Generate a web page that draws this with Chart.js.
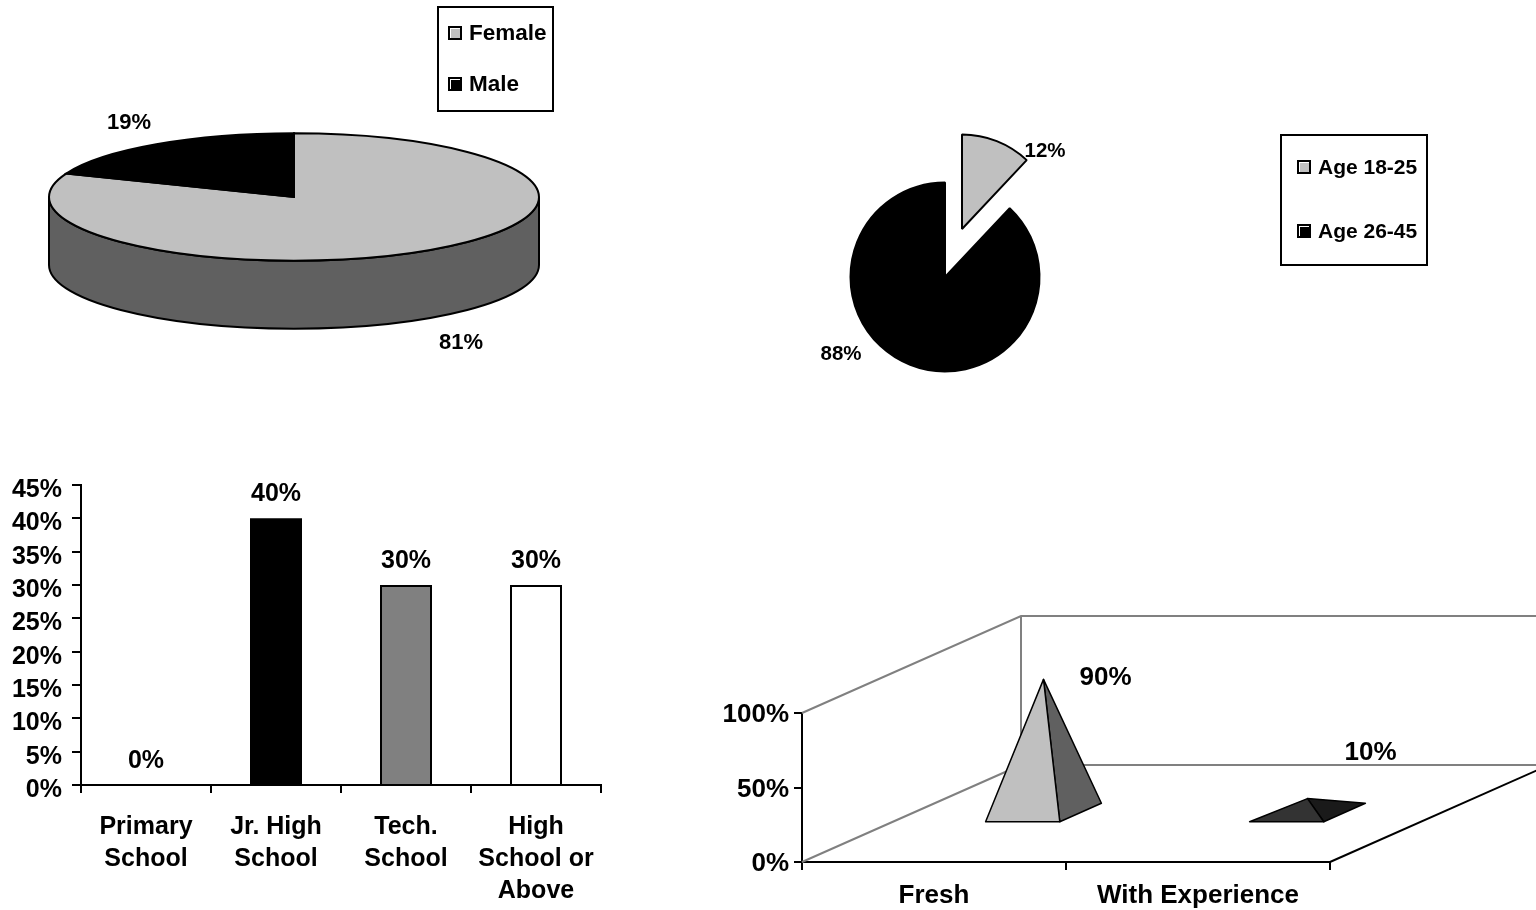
<!DOCTYPE html>
<html lang="en">
<head>
    <meta charset="UTF-8">
    <title>Respondent Profile</title>
    <script src="https://cdn.jsdelivr.net/npm/chart.js"></script>
    <style>
        html, body {
            margin: 0;
            padding: 0;
            background: #fff;
            overflow: hidden;
        }
        body {
            position: relative;
            width: 1536px;
            height: 910px;
            font-family: "Liberation Sans", Arial, sans-serif;
        }
        canvas, .legend {
            position: absolute;
        }
        .legend {
            box-sizing: border-box;
            border: 2px solid #000;
            background: #fff;
            font-weight: bold;
            will-change: transform;
        }
        .legend div {
            position: absolute;
            white-space: nowrap;
            line-height: 24px;
        }
        .legend span {
            position: absolute;
            box-sizing: border-box;
            width: 14px;
            height: 14px;
            left: -21px;
            top: 5px;
            border: 2px solid #000;
            box-shadow: inset 1px 1px 0 #fff;
        }
    </style>
</head>
<body>
    <canvas id="genderChart" width="588" height="394" style="left:0;top:0"></canvas>
    <canvas id="ageChart" width="400" height="400" style="left:745px;top:77px"></canvas>
    <canvas id="educationChart" width="620" height="440" style="left:0;top:470px"></canvas>
    <canvas id="experienceChart" width="836" height="320" style="left:700px;top:590px"></canvas>

    <div class="legend" id="genderLegend" style="left:437px;top:6px;width:117px;height:106px;font-size:22.5px"></div>
    <div class="legend" id="ageLegend" style="left:1280px;top:134px;width:148px;height:132px;font-size:21px"></div>

    <script>
        const genderLabels = ["Female", "Male"];
        const genderValues = [81, 19];

        const ageLabels = ["Age 18-25", "Age 26-45"];
        const ageValues = [12, 88];

        const educationLabels = [["Primary", "School"], ["Jr. High", "School"], ["Tech.", "School"], ["High", "School or", "Above"]];
        const educationValues = [0, 40, 30, 30];

        const experienceLabels = ["Fresh", "With Experience"];
        const experienceValues = [90, 10];

        const FONT = '"Liberation Sans", Arial, sans-serif';
        const GRAY = "#c0c0c0";

        Chart.defaults.animation = false;
        Chart.defaults.responsive = false;
        Chart.defaults.color = "#000";
        Chart.defaults.font.family = FONT;
        Chart.defaults.font.weight = "bold";

        function drawText(ctx, text, x, y, size) {
            ctx.save();
            ctx.font = "bold " + size + "px " + FONT;
            ctx.fillStyle = "#000";
            ctx.textAlign = "center";
            ctx.textBaseline = "middle";
            ctx.fillText(text, x, y);
            ctx.restore();
        }

        // percent labels around a pie, placed relative to its centre
        const pieLabels = {
            id: "pieLabels",
            afterDraw(chart, args, opts) {
                const { left, right, top, bottom } = chart.chartArea;
                const values = chart.data.datasets[0].data;
                values.forEach((value, i) => {
                    drawText(chart.ctx, value + "%", (left + right) / 2 + opts.shift[i][0], (top + bottom) / 2 + opts.shift[i][1], opts.size);
                });
            }
        };

        // squashes the pie into an ellipse and gives it a side wall
        const flatPie = {
            id: "flatPie",
            beforeDatasetsDraw(chart, args, opts) {
                const ctx = chart.ctx;
                const arc = chart.getDatasetMeta(0).data[0];
                const rx = arc.outerRadius;
                const ry = rx * opts.squash;

                ctx.save();
                ctx.beginPath();
                ctx.ellipse(arc.x, arc.y, rx, ry, 0, 0, Math.PI);
                ctx.lineTo(arc.x - rx, arc.y + opts.depth);
                ctx.ellipse(arc.x, arc.y + opts.depth, rx, ry, 0, Math.PI, 0, true);
                ctx.closePath();
                ctx.fillStyle = opts.wall;
                ctx.fill();
                ctx.strokeStyle = "#000";
                ctx.lineWidth = 2;
                ctx.stroke();
                ctx.restore();

                ctx.save();
                ctx.translate(arc.x, arc.y);
                ctx.scale(1, opts.squash);
                ctx.translate(-arc.x, -arc.y);
            },
            afterDatasetsDraw(chart, args, opts) {
                const ctx = chart.ctx;
                ctx.restore();
                chart.getDatasetMeta(0).data.forEach(arc => {
                    ctx.beginPath();
                    ctx.moveTo(arc.x, arc.y);
                    ctx.ellipse(arc.x, arc.y, arc.outerRadius, arc.outerRadius * opts.squash, 0, arc.startAngle, arc.endAngle);
                    ctx.closePath();
                    ctx.strokeStyle = "#000";
                    ctx.lineWidth = 2;
                    ctx.stroke();
                });
            }
        };

        // pulls slices away from the centre without changing their radius
        const explodeSlice = {
            id: "explodeSlice",
            afterDatasetsUpdate(chart, args, opts) {
                chart.getDatasetMeta(0).data.forEach((arc, i) => {
                    arc.x += opts.shift[i][0];
                    arc.y += opts.shift[i][1];
                });
            }
        };

        new Chart(document.getElementById("genderChart"), {
            type: "pie",
            data: {
                labels: genderLabels,
                datasets: [{ data: genderValues, backgroundColor: [GRAY, "#000"], borderWidth: 0, clip: false }]
            },
            options: {
                radius: 245,
                plugins: {
                    legend: { display: false },
                    tooltip: { enabled: false },
                    flatPie: { squash: 0.26, depth: 68, wall: "#606060" },
                    pieLabels: { size: 22, shift: [[167, 146], [-165, -74]] }
                }
            },
            plugins: [flatPie, pieLabels]
        });

        new Chart(document.getElementById("ageChart"), {
            type: "pie",
            data: {
                labels: ageLabels,
                datasets: [{ data: ageValues, backgroundColor: [GRAY, "#000"], borderColor: "#000", borderWidth: 2, clip: false }]
            },
            options: {
                radius: 94.5,
                plugins: {
                    legend: { display: false },
                    tooltip: { enabled: false },
                    explodeSlice: { shift: [[17, -48], [0, 0]] },
                    pieLabels: { size: 20.5, shift: [[100, -126], [-104, 77]] }
                }
            },
            plugins: [explodeSlice, pieLabels]
        });

        const barLabels = {
            id: "barLabels",
            afterDatasetsDraw(chart, args, opts) {
                const values = chart.data.datasets[0].data;
                chart.getDatasetMeta(0).data.forEach((bar, i) => {
                    drawText(chart.ctx, values[i] + "%", bar.x, bar.y - opts.gap, opts.size);
                });
            }
        };

        // fixed axis sizes keep the plot rectangle where it belongs on the page
        new Chart(document.getElementById("educationChart"), {
            type: "bar",
            data: {
                labels: educationLabels,
                datasets: [{
                    data: educationValues,
                    backgroundColor: ["#000", "#000", "#808080", "#fff"],
                    borderColor: "#000",
                    borderWidth: [0, 0, 2, 2],
                    barPercentage: 0.4,
                    categoryPercentage: 1
                }]
            },
            options: {
                layout: { padding: { top: 15, right: 19 } },
                scales: {
                    x: {
                        afterFit: s => { s.height = 125; },
                        border: { color: "#000", width: 2 },
                        grid: { drawOnChartArea: false, color: "#000", lineWidth: 2, tickLength: 8 },
                        ticks: { font: { size: 25, lineHeight: 1.28 }, padding: 18, maxRotation: 0, autoSkip: false }
                    },
                    y: {
                        min: 0,
                        max: 45,
                        afterFit: s => { s.width = 81; s.paddingTop = 0; s.paddingBottom = 0; },
                        border: { color: "#000", width: 2 },
                        grid: { drawOnChartArea: false, color: "#000", lineWidth: 2, tickLength: 9 },
                        ticks: { stepSize: 5, autoSkip: false, font: { size: 25 }, padding: 10, labelOffset: 5, callback: v => v + "%" }
                    }
                },
                plugins: {
                    legend: { display: false },
                    tooltip: { enabled: false },
                    barLabels: { size: 25, gap: 24 }
                }
            },
            plugins: [barLabels]
        });

        // 3D box behind the bars, and a pyramid for each bar
        const pyramidBox = {
            id: "pyramidBox",
            beforeDatasetsDraw(chart, args, opts) {
                const ctx = chart.ctx;
                const { left, right, top, bottom } = chart.chartArea;
                const dx = opts.depthX, dy = opts.depthY;

                ctx.save();
                ctx.strokeStyle = "#808080";
                ctx.lineWidth = 2;
                ctx.beginPath();
                ctx.moveTo(left, top);
                ctx.lineTo(left + dx, top + dy);
                ctx.lineTo(right + dx, top + dy);
                ctx.moveTo(left + dx, top + dy);
                ctx.lineTo(left + dx, bottom + dy);
                ctx.lineTo(right + dx, bottom + dy);
                ctx.moveTo(left, bottom);
                ctx.lineTo(left + dx, bottom + dy);
                ctx.stroke();

                ctx.strokeStyle = "#000";
                ctx.beginPath();
                ctx.moveTo(right, bottom);
                ctx.lineTo(right + dx, bottom + dy);
                ctx.stroke();
                ctx.restore();
            },
            afterDatasetsDraw(chart, args, opts) {
                const ctx = chart.ctx;
                const dx = opts.depthX, dy = opts.depthY;
                const values = chart.data.datasets[0].data;

                chart.getDatasetMeta(0).data.forEach((bar, i) => {
                    // the base sits in the middle of the box depth
                    const near = 0.5 - opts.baseDepth / 2;
                    const far = 0.5 + opts.baseDepth / 2;
                    const frontLeft = [bar.x - bar.width / 2 + dx * near, bar.base + dy * near];
                    const frontRight = [bar.x + bar.width / 2 + dx * near, bar.base + dy * near];
                    const backRight = [bar.x + bar.width / 2 + dx * far, bar.base + dy * far];
                    const apex = [bar.x + dx / 2, bar.y + dy / 2];

                    ctx.save();
                    ctx.strokeStyle = "#000";
                    ctx.lineWidth = 1.5;
                    ctx.lineJoin = "round";
                    [[frontRight, backRight, opts.side[i]], [frontLeft, frontRight, opts.front[i]]].forEach(face => {
                        ctx.beginPath();
                        ctx.moveTo(face[0][0], face[0][1]);
                        ctx.lineTo(face[1][0], face[1][1]);
                        ctx.lineTo(apex[0], apex[1]);
                        ctx.closePath();
                        ctx.fillStyle = face[2];
                        ctx.fill();
                        ctx.stroke();
                    });
                    ctx.restore();

                    drawText(ctx, values[i] + "%", apex[0] + opts.labelShift[i][0], apex[1] + opts.labelShift[i][1], opts.size);
                });
            }
        };

        new Chart(document.getElementById("experienceChart"), {
            type: "bar",
            data: {
                labels: experienceLabels,
                datasets: [{
                    data: experienceValues,
                    backgroundColor: "transparent",
                    borderWidth: 0,
                    barPercentage: 0.281,
                    categoryPercentage: 1
                }]
            },
            options: {
                layout: { padding: { top: 123, right: 206 } },
                scales: {
                    x: {
                        afterFit: s => { s.height = 48; },
                        border: { color: "#000", width: 2 },
                        grid: { drawOnChartArea: false, color: "#000", lineWidth: 2, tickLength: 8 },
                        ticks: { font: { size: 26 }, padding: 10, maxRotation: 0 }
                    },
                    y: {
                        min: 0,
                        max: 100,
                        afterFit: s => { s.width = 102; },
                        border: { color: "#000", width: 2 },
                        grid: { drawOnChartArea: false, color: "#000", lineWidth: 2, tickLength: 8 },
                        ticks: { stepSize: 50, font: { size: 26 }, padding: 5, labelOffset: 2, callback: v => v + "%" }
                    }
                },
                plugins: {
                    legend: { display: false },
                    tooltip: { enabled: false },
                    pyramidBox: {
                        depthX: 219,
                        depthY: -97,
                        baseDepth: 0.19,
                        front: [GRAY, "#333333"],
                        side: ["#606060", "#1a1a1a"],
                        size: 26,
                        labelShift: [[62, -2], [63, -46]]
                    }
                }
            },
            plugins: [pyramidBox]
        });

        // legends are plain text boxes built from the same categories
        function buildLegend(id, labels, colors, left, rows) {
            const box = document.getElementById(id);
            labels.forEach((label, i) => {
                const row = document.createElement("div");
                row.style.left = left + "px";
                row.style.top = rows[i] + "px";
                row.textContent = label;
                const swatch = document.createElement("span");
                swatch.style.background = colors[i];
                row.appendChild(swatch);
                box.appendChild(row);
            });
        }

        buildLegend("genderLegend", genderLabels, [GRAY, "#000"], 30, [13, 64]);
        buildLegend("ageLegend", ageLabels, [GRAY, "#000"], 36, [19, 83]);
    </script>
</body>
</html>
